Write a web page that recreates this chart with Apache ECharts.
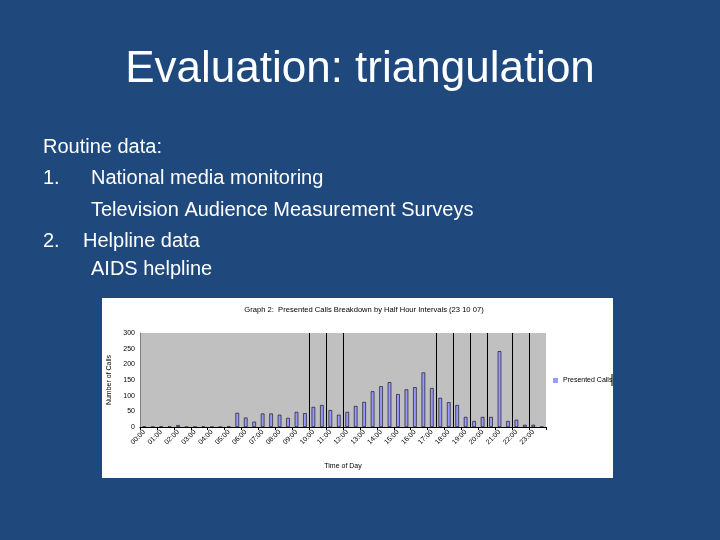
<!DOCTYPE html>
<html>
<head>
<meta charset="utf-8">
<script src="https://cdn.jsdelivr.net/npm/echarts@6/dist/echarts.min.js"></script>
<style>html,body{margin:0;padding:0;background:#1F497D;}#c{width:720px;height:540px;}</style>
</head>
<body>
<div id="c"></div>
<script>
// Half-hour interval categories
var categories = [];
for (var h = 0; h < 24; h++) {
  var hh = (h < 10 ? '0' : '') + h;
  categories.push(hh + ':00');
  categories.push(hh + ':30');
}
// Presented calls per half hour
var presentedCalls = [1, 0, 1, 1, 6, 0, 0, 1, 0, 0, 1, 45,
                      30, 17, 43, 43, 39, 29, 48, 44, 64, 70, 54, 39,
                      48, 67, 80, 114, 130, 143, 105, 120, 127, 174, 124, 93,
                      79, 70, 32, 19, 32, 32, 242, 19, 23, 7, 7, 0];
// Annotation lines, at category boundaries (index units)
var markerPositions = [20, 22, 24, 35, 37, 39, 41, 44, 46];
var yTicks = [0, 50, 100, 150, 200, 250, 300];

var chart = echarts.init(document.getElementById('c'));
var font = 'Liberation Sans, Arial, sans-serif';
chart.setOption({
  backgroundColor: '#1F497D',
  animation: false,
  graphic: [
    {type: 'text', left: 'center', top: 48, style: {text: 'Evaluation: triangulation', fill: '#FFFFFF', font: '44px ' + font}},
    {type: 'text', left: 43, top: 137, style: {text: 'Routine data:', fill: '#FFFFFF', font: '20px ' + font}},
    {type: 'text', left: 43, top: 168, style: {text: '1.', fill: '#FFFFFF', font: '20px ' + font}},
    {type: 'text', left: 91, top: 168, style: {text: 'National media monitoring', fill: '#FFFFFF', font: '20px ' + font}},
    {type: 'text', left: 91, top: 200, style: {text: 'Television Audience Measurement Surveys', fill: '#FFFFFF', font: '20px ' + font}},
    {type: 'text', left: 43, top: 231, style: {text: '2.', fill: '#FFFFFF', font: '20px ' + font}},
    {type: 'text', left: 83, top: 231, style: {text: 'Helpline data', fill: '#FFFFFF', font: '20px ' + font}},
    {type: 'text', left: 91, top: 259, style: {text: 'AIDS helpline', fill: '#FFFFFF', font: '20px ' + font}},
    {type: 'rect', z: -10, shape: {x: 102, y: 298, width: 511, height: 180}, style: {fill: '#FFFFFF'}},
    {type: 'line', shape: {x1: 612, y1: 374, x2: 612, y2: 386}, style: {stroke: '#000', lineWidth: 1}}
  ],
  title: {
    text: 'Graph 2:  Presented Calls Breakdown by Half Hour Intervals (23 10 07)',
    left: 359, top: 301, textAlign: 'center',
    textStyle: {fontSize: 7.6, fontWeight: 'normal', color: '#000', fontFamily: font}
  },
  legend: {
    left: 553, top: 377, padding: 0, itemWidth: 5, itemHeight: 5,
    textStyle: {fontSize: 7, color: '#000', fontFamily: font},
    itemStyle: {borderWidth: 0, color: '#9999FF'},
    data: [{name: 'Presented Calls', icon: 'rect'}]
  },
  grid: {left: 140, top: 333, width: 406, height: 94, show: true, backgroundColor: '#C0C0C0', borderWidth: 0, containLabel: false},
  xAxis: [{
    type: 'category', data: categories,
    name: 'Time of Day', nameLocation: 'middle', nameGap: 36,
    nameTextStyle: {fontSize: 7, color: '#000', fontFamily: font},
    axisLine: {lineStyle: {color: '#000', width: 1}},
    axisTick: {show: true, interval: 1, length: 3, lineStyle: {color: '#000'}},
    axisLabel: {interval: 1, rotate: 45, fontSize: 7, color: '#000', fontFamily: font, margin: 4},
    splitLine: {show: false}
  }, {
    type: 'value', min: 0, max: 48, show: false
  }],
  yAxis: {
    type: 'value', min: 0, max: 300, interval: 50,
    name: 'Number of Calls', nameLocation: 'middle', nameGap: 25, nameRotate: 90,
    nameTextStyle: {fontSize: 7, color: '#000', fontFamily: font},
    axisLine: {show: true, lineStyle: {color: '#808080'}},
    axisTick: {show: false},
    axisLabel: {fontSize: 7, color: '#000', fontFamily: font, margin: 5,
      formatter: function (v) { return yTicks.indexOf(v) >= 0 ? String(v) : ''; }},
    splitLine: {show: false}
  },
  series: [{
    name: 'Presented Calls', type: 'bar', data: presentedCalls,
    barCategoryGap: '58%',
    itemStyle: {color: '#9999FF', borderColor: '#000', borderWidth: 0.6}
  }, {
    name: 'markers', type: 'line', xAxisIndex: 1, data: [[0, 0]], showSymbol: false,
    lineStyle: {opacity: 0}, silent: true,
    markLine: {
      symbol: 'none', silent: true, label: {show: false},
      lineStyle: {color: '#000', width: 1, type: 'solid'},
      data: markerPositions.map(function (p) { return {xAxis: p}; })
    }
  }]
});
</script>
</body>
</html>
